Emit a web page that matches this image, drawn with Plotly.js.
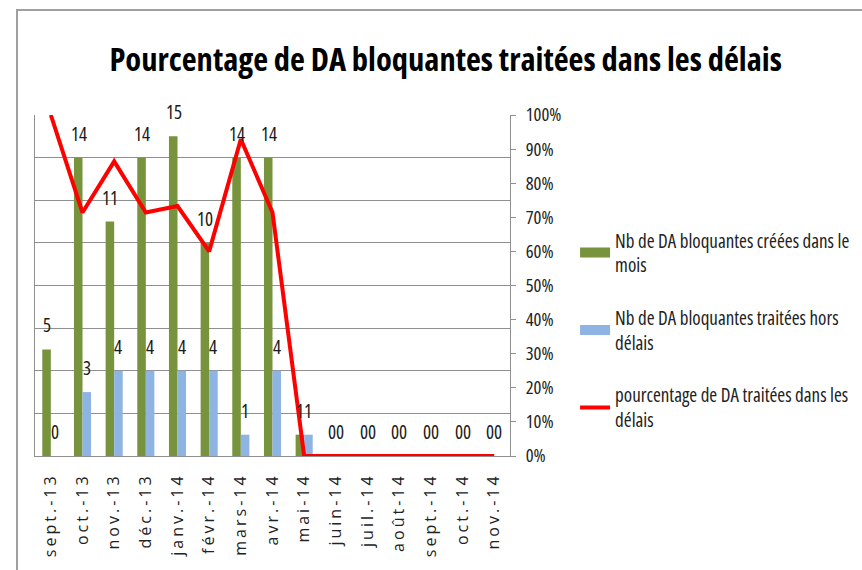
<!DOCTYPE html>
<html>
<head>
<meta charset="utf-8">
<script src="https://cdn.plot.ly/plotly-3.0.1.min.js"></script>
<style>
  html, body { margin: 0; padding: 0; background: #fff; }
  #chart { width: 862px; height: 570px; }
  svg text { font-stretch: condensed; }
  .xtick text { font-stretch: normal; letter-spacing: 3px; }
</style>
</head>
<body>
<div id="chart"></div>
<script>
// ---- data ----
const months = ['sept.-13','oct.-13','nov.-13','déc.-13','janv.-14','févr.-14','mars-14','avr.-14','mai-14','juin-14','juil.-14','août-14','sept.-14','oct.-14','nov.-14'];
const creees = [5, 14, 11, 14, 15, 10, 14, 14, 1, 0, 0, 0, 0, 0, 0];
const horsDelais = [0, 3, 4, 4, 4, 4, 1, 4, 1, 0, 0, 0, 0, 0, 0];
const pctDansDelais = [1.0, 0.714, 0.864, 0.714, 0.733, 0.6, 0.929, 0.714, 0, 0, 0, 0, 0, 0, 0];
const seriesNames = [
  'Nb de DA bloquantes créées dans le<br>mois',
  'Nb de DA bloquantes traitées hors<br>délais',
  'pourcentage de DA traitées dans les<br>délais'
];

const FONT = '"Open Sans", "DejaVu Sans Condensed", sans-serif';
const GREEN = '#77933C', BLUE = '#8EB4E3', RED = '#FF0000', GRID = '#8f8f8f';

const traces = [
  { type: 'bar', x: months, y: creees, name: seriesNames[0], marker: { color: GREEN },
    legendgroup: 'a', hoverinfo: 'skip' },
  { type: 'bar', x: months, y: horsDelais, name: seriesNames[1], marker: { color: BLUE },
    legendgroup: 'b', hoverinfo: 'skip' },
  { type: 'scatter', mode: 'lines', x: months, y: pctDansDelais, yaxis: 'y2', name: seriesNames[2],
    line: { color: RED, width: 4 }, legendgroup: 'c', hoverinfo: 'skip' }
];

// data labels placed above each bar
const annotations = [];
months.forEach((m, i) => {
  annotations.push({ x: m, y: creees[i], xref: 'x', yref: 'y', text: String(creees[i]), showarrow: false,
    xshift: -4, yshift: 24, yanchor: 'middle', font: { family: FONT, size: 19, color: '#1a1a1a' } });
  annotations.push({ x: m, y: horsDelais[i], xref: 'x', yref: 'y', text: String(horsDelais[i]), showarrow: false,
    xshift: 4, yshift: 24, yanchor: 'middle', font: { family: FONT, size: 19, color: '#1a1a1a' } });
});

const layout = {
  width: 862, height: 570,
  margin: { l: 35, r: 352, t: 115, b: 114, autoexpand: false },
  paper_bgcolor: '#fff', plot_bgcolor: '#fff',
  title: { text: '<b>Pourcentage de DA bloquantes traitées dans les délais</b>',
    xref: 'container', x: 0.517, y: 0.895, yanchor: 'middle', xanchor: 'center',
    font: { family: FONT, size: 32.5, color: '#000' } },
  barmode: 'group', bargap: 0.46, bargroupgap: 0,
  xaxis: { type: 'category', tickangle: -90, showgrid: false, showline: true, linecolor: GRID, linewidth: 1,
    ticks: '', ticklabelstandoff: 10, tickfont: { family: FONT, size: 16, color: '#222' } },
  yaxis: { range: [0, 16], dtick: 2, showticklabels: false, showgrid: true, gridcolor: GRID, gridwidth: 1,
    showline: true, linecolor: GRID, linewidth: 1, zeroline: false, ticks: '' },
  yaxis2: { overlaying: 'y', side: 'right', anchor: 'x', range: [0, 1], dtick: 0.1, tickformat: '.0%',
    showgrid: false, zeroline: false, showline: true, linecolor: GRID, linewidth: 1,
    ticks: 'outside', ticklen: 5, tickcolor: GRID, ticklabelstandoff: 6,
    tickfont: { family: FONT, size: 18.5, color: '#222' } },
  showlegend: true,
  legend: { x: 1.137, xanchor: 'left', y: 0.688, yanchor: 'top', traceorder: 'grouped', tracegroupgap: 25,
    font: { family: FONT, size: 19, color: '#222' }, bgcolor: 'rgba(0,0,0,0)' },
  annotations: annotations,
  shapes: [
    { type: 'rect', xref: 'paper', yref: 'paper', x0: -0.0379, x1: 2, y0: -1, y1: 1.308,
      line: { color: '#a0a0a0', width: 2 }, layer: 'below' }
  ]
};

Plotly.newPlot('chart', traces, layout, { displayModeBar: false, staticPlot: true }).then(gd => {
  // widen the bar swatches in the legend to Excel-like rectangles
  gd.querySelectorAll('.legend .traces path').forEach(p => {
    if (p.classList.contains('js-line')) return;
    let bb; try { bb = p.getBBox(); } catch (e) { return; }
    if (bb.width > 6 && bb.width <= 16 && bb.height > 6 && bb.height <= 16) {
      p.setAttribute('d', 'M15,5H-15V-5H15Z');
    }
  });
});
</script>
</body>
</html>
